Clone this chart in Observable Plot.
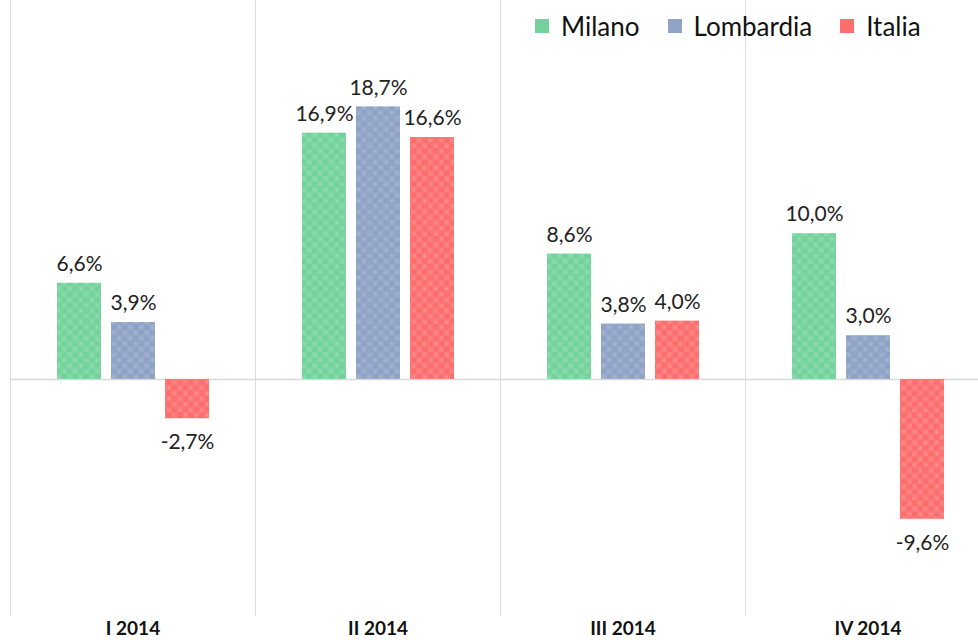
<!DOCTYPE html>
<html>
<head>
<meta charset="utf-8">
<script src="https://cdn.jsdelivr.net/npm/d3@7"></script>
<script src="https://cdn.jsdelivr.net/npm/@observablehq/plot@0.6"></script>
<style>
  html, body { margin: 0; padding: 0; background: #fff; overflow: hidden; }
  #wrap { position: relative; width: 978px; height: 640px; overflow: hidden; }
  #chart svg { max-width: none !important; }
  #legend { position: absolute; top: 9px; left: 535px; font-family: Lato, "Open Sans", sans-serif; font-size: 26px; line-height: 34px; color: #111; display: flex; align-items: center; white-space: nowrap; }
  #legend .item { display: flex; align-items: center; margin-right: 28px; }
  #legend .sw { width: 14px; height: 14px; margin-right: 12px; }
</style>
</head>
<body>
<div id="wrap"><div id="chart"></div><div id="legend"></div></div>
<script>
const quarters = ["I 2014", "II 2014", "III 2014", "IV 2014"];
const series = ["Milano", "Lombardia", "Italia"];
const milano = [6.6, 16.9, 8.6, 10.0];
const lombardia = [3.9, 18.7, 3.8, 3.0];
const italia = [-2.7, 16.6, 4.0, -9.6];
const colors = ["#74d39c", "#8fa3c6", "#fd6f6f"];
const patternIds = ["pat-milano", "pat-lombardia", "pat-italia"];

const valuesBySeries = [milano, lombardia, italia];
const data = [];
quarters.forEach((q, i) => {
  series.forEach((s, j) => data.push({quarter: q, series: s, value: valuesBySeries[j][i]}));
});
const fmt = v => v.toFixed(1).replace(".", ",") + "%";

const font = "Lato, 'Open Sans', sans-serif";
const plot = Plot.plot({
  width: 1000,
  height: 640,
  marginLeft: 9,
  marginRight: 9,
  marginTop: 0,
  marginBottom: 25,
  style: {fontFamily: font, background: "#fff", maxWidth: "none"},
  fx: {domain: quarters, padding: 0, label: null, axis: "bottom", tickSize: 0, tickPadding: 6},
  x: {domain: series, paddingInner: 0.19, paddingOuter: 0.85, axis: null},
  y: {domain: [-16.2, 26], axis: null},
  color: {domain: series, range: patternIds.map(id => `url(#${id})`)},
  marks: [
    Plot.frame({anchor: "left", stroke: "#dcdcdc", strokeWidth: 1}),
    Plot.ruleY([0], {stroke: "#d9d9d9", strokeWidth: 1.5}),
    Plot.barY(data, {fx: "quarter", x: "series", y: "value", fill: "series"}),
    Plot.text(data.filter(d => d.value >= 0), {fx: "quarter", x: "series", y: "value", text: d => fmt(d.value), dy: -19, fontSize: 21, fill: "#222"}),
    Plot.text(data.filter(d => d.value < 0), {fx: "quarter", x: "series", y: "value", text: d => fmt(d.value), dy: 24, fontSize: 21, fill: "#222"})
  ]
});

// textured fills
const defs = `<defs>${patternIds.map((id, i) => `
  <pattern id="${id}" width="11" height="11" patternUnits="userSpaceOnUse">
    <rect width="11" height="11" fill="${colors[i]}"/>
    <rect x="0" y="0" width="5.5" height="5.5" fill="#fff" fill-opacity="0.10"/>
    <rect x="5.5" y="5.5" width="5.5" height="5.5" fill="#fff" fill-opacity="0.10"/>
    <rect x="2" y="2" width="1.5" height="1.5" fill="#fff" fill-opacity="0.18"/>
    <rect x="7.5" y="7.5" width="1.5" height="1.5" fill="#fff" fill-opacity="0.18"/>
  </pattern>`).join("")}</defs>`;
plot.insertAdjacentHTML("afterbegin", defs);
plot.querySelectorAll("g[aria-label='fx-axis tick label']").forEach(el => {
  el.setAttribute("font-weight", "bold");
  el.setAttribute("font-size", "19");
  el.setAttribute("fill", "#111");
});
document.getElementById("chart").appendChild(plot);

const legend = document.getElementById("legend");
series.forEach((s, i) => {
  const item = document.createElement("div");
  item.className = "item";
  item.innerHTML = `<span class="sw" style="background:${colors[i]}"></span><span>${s}</span>`;
  legend.appendChild(item);
});
</script>
</body>
</html>
